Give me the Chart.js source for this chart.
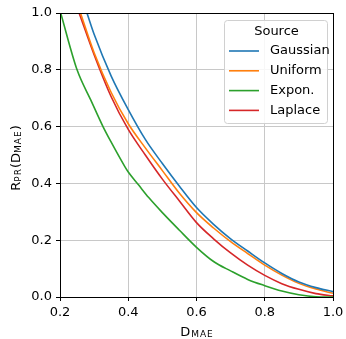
<!DOCTYPE html>
<html>
<head>
<meta charset="utf-8">
<script src="https://cdn.jsdelivr.net/npm/chart.js@4.4.1/dist/chart.umd.min.js"></script>
<style>
html,body{margin:0;padding:0;background:#fff;}
#wrap{width:346px;height:339px;}
</style>
</head>
<body>
<div id="wrap"><canvas id="c" width="346" height="339"></canvas></div>
<script>
// ---- data ----
const seriesLabels = ["Gaussian", "Uniform", "Expon.", "Laplace"];
const seriesColors = ["#1f77b4", "#ff7f0e", "#2ca02c", "#d62728"];
const legendTitle = "Source";
const xTitleMain = "D", xTitleSub = "MAE";
const yTitleParts = [["R", false], ["PR", true], ["(D", false], ["MAE", true], [")", false]];
const xTicks = [0.2, 0.4, 0.6, 0.8, 1.0];
const yTicks = [0.0, 0.2, 0.4, 0.6, 0.8, 1.0];

const gaussX = [0.279, 0.30, 0.35, 0.40, 0.45, 0.50, 0.55, 0.60, 0.65, 0.70, 0.75, 0.80, 0.85, 0.90, 0.95, 1.00];
const gaussY = [1.000, 0.925, 0.778, 0.660, 0.555, 0.470, 0.390, 0.315, 0.256, 0.205, 0.162, 0.120, 0.083, 0.053, 0.033, 0.019];

const uniX = [0.260, 0.30, 0.35, 0.40, 0.45, 0.50, 0.55, 0.60, 0.65, 0.70, 0.75, 0.80, 0.85, 0.90, 0.95, 1.00];
const uniY = [1.000, 0.860, 0.720, 0.610, 0.525, 0.445, 0.365, 0.297, 0.243, 0.195, 0.153, 0.112, 0.077, 0.048, 0.028, 0.013];

const expX = [0.202, 0.25, 0.29, 0.326, 0.35, 0.39, 0.40, 0.43, 0.46, 0.50, 0.55, 0.60, 0.65, 0.70, 0.75, 0.80, 0.85, 0.90, 0.95, 1.00];
const expY = [1.000, 0.800, 0.694, 0.600, 0.545, 0.459, 0.440, 0.395, 0.350, 0.297, 0.235, 0.175, 0.125, 0.092, 0.062, 0.040, 0.021, 0.008, 0.001, 0.000];

const lapX = [0.256, 0.30, 0.35, 0.40, 0.45, 0.50, 0.55, 0.60, 0.65, 0.70, 0.75, 0.80, 0.85, 0.90, 0.95, 1.00];
const lapY = [1.000, 0.853, 0.705, 0.590, 0.500, 0.415, 0.338, 0.262, 0.205, 0.155, 0.112, 0.076, 0.047, 0.027, 0.012, 0.004];

const seriesX = [gaussX, uniX, expX, lapX];
const seriesY = [gaussY, uniY, expY, lapY];

const FONT = "'DejaVu Sans', sans-serif";

const datasets = seriesLabels.map((lab, i) => ({
  label: lab,
  data: seriesX[i].map((x, j) => ({x: x, y: seriesY[i][j]})),
  borderColor: seriesColors[i],
  backgroundColor: seriesColors[i],
  borderWidth: 1.6,
  pointRadius: 0,
  fill: false,
  cubicInterpolationMode: 'monotone'
}));

const decor = {
  id: 'decor',
  afterDraw(chart) {
    const ctx = chart.ctx;
    const a = chart.chartArea;
    ctx.save();
    ctx.strokeStyle = '#000';
    ctx.lineWidth = 1;
    ctx.strokeRect(Math.round(a.left) + 0.5, Math.round(a.top) + 0.5, Math.round(a.right - a.left), Math.round(a.bottom - a.top));

    ctx.fillStyle = '#000';
    ctx.textBaseline = 'alphabetic';
    ctx.font = '13px ' + FONT;
    const wMain = ctx.measureText(xTitleMain).width;
    ctx.font = '9px ' + FONT;
    ctx.letterSpacing = '1px';
    const wSub = ctx.measureText(xTitleSub).width;
    const cx = (a.left + a.right) / 2;
    let x0 = cx - (wMain + wSub) / 2;
    ctx.letterSpacing = '0px';
    ctx.font = '13px ' + FONT;
    ctx.textAlign = 'left';
    ctx.fillText(xTitleMain, x0, 336);
    ctx.font = '9px ' + FONT;
    ctx.letterSpacing = '1px';
    ctx.fillText(xTitleSub, x0 + wMain + 1, 337);
    ctx.letterSpacing = '0px';

    let total = 0;
    const widths = yTitleParts.map(p => {
      ctx.font = (p[1] ? '9px ' : '13px ') + FONT;
      ctx.letterSpacing = p[1] ? '1px' : '0px';
      const w = ctx.measureText(p[0]).width;
      total += w;
      return w;
    });
    ctx.translate(20, 158);
    ctx.rotate(-Math.PI / 2);
    let px = -total / 2;
    yTitleParts.forEach((p, i) => {
      ctx.font = (p[1] ? '9px ' : '13px ') + FONT;
      ctx.letterSpacing = p[1] ? '1px' : '0px';
      ctx.fillText(p[0], px, p[1] ? 1 : 0);
      px += widths[i];
    });
    ctx.restore();

    ctx.save();
    const bx = 224, by = 20, bw = 103, bh = 103, r = 3;
    ctx.globalAlpha = 0.85;
    ctx.fillStyle = '#fff';
    ctx.beginPath();
    ctx.roundRect(bx + 0.5, by + 0.5, bw, bh, r);
    ctx.fill();
    ctx.globalAlpha = 1;
    ctx.strokeStyle = '#d0d0d0';
    ctx.lineWidth = 1;
    ctx.stroke();
    ctx.fillStyle = '#000';
    ctx.font = '13px ' + FONT;
    ctx.textAlign = 'center';
    ctx.textBaseline = 'middle';
    ctx.fillText(legendTitle, bx + bw / 2 + 1, 32);
    ctx.textAlign = 'left';
    chart.data.datasets.forEach((ds, i) => {
      const yy = 51 + i * 19.8;
      ctx.strokeStyle = ds.borderColor;
      ctx.lineWidth = 1.6;
      ctx.beginPath();
      ctx.moveTo(229, yy);
      ctx.lineTo(259, yy);
      ctx.stroke();
      ctx.fillText(ds.label, 270, yy);
    });
    ctx.restore();
  }
};

new Chart(document.getElementById('c'), {
  type: 'line',
  data: { datasets: datasets },
  options: {
    responsive: false,
    animation: false,
    layout: { padding: { top: 13, right: 13, left: 0, bottom: 0 } },
    plugins: { legend: { display: false }, tooltip: { enabled: false }, title: { display: false } },
    scales: {
      x: {
        type: 'linear', min: 0.2, max: 1.0,
        afterFit(s) { s.height = 42; s.paddingRight = 0; s.paddingLeft = 0; },
        afterBuildTicks(s) { s.ticks = xTicks.map(v => ({value: v})); },
        ticks: { color: '#000', font: { family: FONT, size: 13 }, padding: 4, maxRotation: 0,
                 callback: v => Number(v).toFixed(1) },
        grid: { color: '#c8c8c8', lineWidth: 1, tickColor: '#000', tickLength: 4, tickWidth: 1 },
        border: { display: true, color: '#000', width: 1 }
      },
      y: {
        type: 'linear', min: 0, max: 1.0,
        afterFit(s) { s.width = 60; s.paddingTop = 0; s.paddingBottom = 0; },
        afterBuildTicks(s) { s.ticks = yTicks.map(v => ({value: v})); },
        ticks: { color: '#000', font: { family: FONT, size: 13 }, padding: 4,
                 callback: v => Number(v).toFixed(1) },
        grid: { color: '#c8c8c8', lineWidth: 1, tickColor: '#000', tickLength: 4, tickWidth: 1 },
        border: { display: true, color: '#000', width: 1 }
      }
    }
  },
  plugins: [decor]
});
</script>
</body>
</html>
